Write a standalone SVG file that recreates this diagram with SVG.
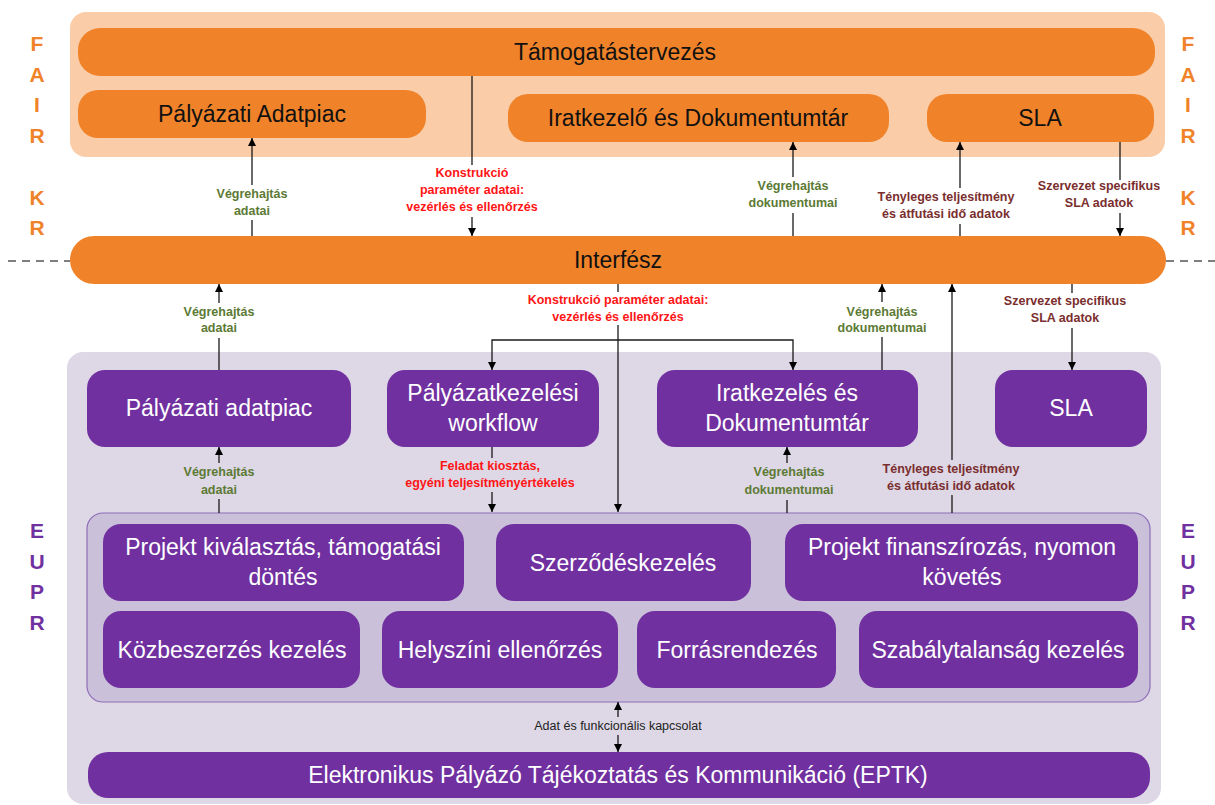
<svg xmlns="http://www.w3.org/2000/svg" width="1215" height="805" viewBox="0 0 1215 805">
<style>
.big{font-family:"Liberation Sans",Arial,sans-serif;font-size:23px;text-anchor:middle}
.dark{fill:#111}
.wh{fill:#fff}
.side{font-family:"Liberation Sans",Arial,sans-serif;font-size:21px;font-weight:bold;text-anchor:middle}
.or{fill:#F0832A}
.pu{fill:#7030A0}
.lbl{font-family:"Liberation Sans",Arial,sans-serif;font-size:12.5px;font-weight:bold;text-anchor:middle}
.g{fill:#5C7A34}
.r{fill:#FF1515}
.b{fill:#7A2E2E}
.sm{font-family:"Liberation Sans",Arial,sans-serif;font-size:12.5px;text-anchor:middle;fill:#222}
.obox{fill:#F0832A}
.pbox{fill:#7030A0}
.con{fill:none;stroke:#1a1a1a;stroke-width:1.3}
</style>
<defs>
<marker id="ah" viewBox="0 0 8 8" refX="8" refY="4" markerWidth="8" markerHeight="8" markerUnits="userSpaceOnUse" orient="auto">
<path d="M0,0 L8,4 L0,8 z" fill="#000"/>
</marker>
</defs>
<rect width="1215" height="805" fill="#fff"/>

<!-- containers -->
<g id="fair-container"><rect x="70" y="12" width="1095" height="145" rx="16" fill="#FACDA8"/></g>
<g id="eupr-container"><rect x="67" y="352" width="1094" height="452" rx="16" fill="#DDD7E6"/></g>
<g id="inner-container"><rect x="87" y="513" width="1063" height="189" rx="16" fill="#CBC0DA" stroke="#8E6FB8" stroke-width="1.2"/></g>

<!-- dashed separators -->
<g id="separator">
<line x1="8" y1="261" x2="70" y2="261" stroke="#7f7f7f" stroke-width="2" stroke-dasharray="8,6"/>
<line x1="1166" y1="261" x2="1215" y2="261" stroke="#7f7f7f" stroke-width="2" stroke-dasharray="8,6"/>
</g>

<!-- side letters -->
<g id="side-labels">
<text class="side or" x="37" y="51">F</text><text class="side or" x="37" y="82">A</text><text class="side or" x="37" y="112">I</text><text class="side or" x="37" y="143">R</text>
<text class="side or" x="37" y="205">K</text><text class="side or" x="37" y="235">R</text>
<text class="side or" x="1188" y="51">F</text><text class="side or" x="1188" y="82">A</text><text class="side or" x="1188" y="112">I</text><text class="side or" x="1188" y="143">R</text>
<text class="side or" x="1188" y="205">K</text><text class="side or" x="1188" y="235">R</text>
<text class="side pu" x="37" y="538">E</text><text class="side pu" x="37" y="569">U</text><text class="side pu" x="37" y="599">P</text><text class="side pu" x="37" y="630">R</text>
<text class="side pu" x="1188" y="538">E</text><text class="side pu" x="1188" y="569">U</text><text class="side pu" x="1188" y="599">P</text><text class="side pu" x="1188" y="630">R</text>
</g>

<!-- FAIR nodes -->
<g id="tamogatastervezes"><rect class="obox" x="78" y="28" width="1077" height="48" rx="22"/><text class="big dark" x="615" y="60">Támogatástervezés</text></g>
<g id="fair-adatpiac"><rect class="obox" x="78" y="90" width="348" height="48" rx="20"/><text class="big dark" x="252" y="122">Pályázati Adatpiac</text></g>
<g id="fair-iratkezelo"><rect class="obox" x="508" y="94" width="381" height="48" rx="20"/><text class="big dark" x="698" y="126">Iratkezelő és Dokumentumtár</text></g>
<g id="fair-sla"><rect class="obox" x="927" y="94" width="227" height="48" rx="20"/><text class="big dark" x="1040" y="126">SLA</text></g>

<!-- Interface -->
<g id="interfesz"><rect class="obox" x="70" y="236" width="1096" height="48" rx="24"/><text class="big dark" x="618" y="268">Interfész</text></g>

<!-- EUPR nodes -->
<g id="eupr-adatpiac"><rect class="pbox" x="87" y="370" width="264" height="77" rx="18"/><text class="big wh" x="219" y="416">Pályázati adatpiac</text></g>
<g id="eupr-workflow"><rect class="pbox" x="387" y="370" width="212" height="77" rx="18"/><text class="big wh" x="493" y="401">Pályázatkezelési</text><text class="big wh" x="493" y="431">workflow</text></g>
<g id="eupr-iratkezeles"><rect class="pbox" x="657" y="370" width="261" height="77" rx="18"/><text class="big wh" x="787" y="401">Iratkezelés és</text><text class="big wh" x="787" y="431">Dokumentumtár</text></g>
<g id="eupr-sla"><rect class="pbox" x="995" y="370" width="152" height="77" rx="18"/><text class="big wh" x="1071" y="416">SLA</text></g>

<g id="projekt-kivalasztas"><rect class="pbox" x="103" y="524" width="361" height="77" rx="18"/><text class="big wh" x="283" y="555">Projekt kiválasztás, támogatási</text><text class="big wh" x="283" y="585">döntés</text></g>
<g id="szerzodeskezeles"><rect class="pbox" x="496" y="524" width="255" height="77" rx="18"/><text class="big wh" x="623" y="571">Szerződéskezelés</text></g>
<g id="projekt-finanszirozas"><rect class="pbox" x="785" y="524" width="353" height="77" rx="18"/><text class="big wh" x="962" y="555">Projekt finanszírozás, nyomon</text><text class="big wh" x="962" y="585">követés</text></g>
<g id="kozbeszerzes"><rect class="pbox" x="103" y="611" width="257" height="77" rx="18"/><text class="big wh" x="232" y="658">Közbeszerzés kezelés</text></g>
<g id="helyszini"><rect class="pbox" x="382" y="611" width="236" height="77" rx="18"/><text class="big wh" x="500" y="658">Helyszíni ellenőrzés</text></g>
<g id="forrasrendezes"><rect class="pbox" x="637" y="611" width="199" height="77" rx="18"/><text class="big wh" x="737" y="658">Forrásrendezés</text></g>
<g id="szabalytalansag"><rect class="pbox" x="859" y="611" width="279" height="77" rx="18"/><text class="big wh" x="998" y="658">Szabálytalanság kezelés</text></g>

<g id="eptk"><rect class="pbox" x="88" y="752" width="1062" height="46" rx="20"/><text class="big wh" x="618" y="783">Elektronikus Pályázó Tájékoztatás és Kommunikáció (EPTK)</text></g>

<!-- connectors -->
<g id="connectors">
<path class="con" d="M472,76 V165"/><path class="con" d="M472,217 V236" marker-end="url(#ah)"/>
<path class="con" d="M252,185 V138" marker-end="url(#ah)"/><path class="con" d="M252,236 V220"/>
<path class="con" d="M793,177 V142" marker-end="url(#ah)"/><path class="con" d="M793,236 V213"/>
<path class="con" d="M960,188 V142" marker-end="url(#ah)"/><path class="con" d="M960,236 V224"/>
<path class="con" d="M1120,142 V180"/><path class="con" d="M1120,213 V236" marker-end="url(#ah)"/>

<path class="con" d="M219,303 V284" marker-end="url(#ah)"/><path class="con" d="M219,370 V338"/>
<path class="con" d="M618,284 V292"/><path class="con" d="M618,325 V512" marker-end="url(#ah)"/>
<path class="con" d="M618,340 H492 V370" marker-end="url(#ah)"/><path class="con" d="M618,340 H793 V370" marker-end="url(#ah)"/>
<path class="con" d="M882,302 V284" marker-end="url(#ah)"/><path class="con" d="M882,370 V337"/>
<path class="con" d="M952,460 V284" marker-end="url(#ah)"/><path class="con" d="M952,513 V495"/>
<path class="con" d="M1072,284 V293"/><path class="con" d="M1072,328 V370" marker-end="url(#ah)"/>

<path class="con" d="M219,463 V447" marker-end="url(#ah)"/><path class="con" d="M219,513 V499"/>
<path class="con" d="M492,447 V458"/><path class="con" d="M492,492 V512" marker-end="url(#ah)"/>
<path class="con" d="M787,463 V447" marker-end="url(#ah)"/><path class="con" d="M787,513 V500"/>
<path class="con" d="M618,717 V702" marker-end="url(#ah)"/><path class="con" d="M618,735 V752" marker-end="url(#ah)"/>

<!-- connector labels -->
<text class="lbl r" x="472" y="177">Konstrukció</text><text class="lbl r" x="472" y="194">paraméter adatai:</text><text class="lbl r" x="472" y="211">vezérlés és ellenőrzés</text>
<text class="lbl g" x="252" y="198">Végrehajtás</text><text class="lbl g" x="252" y="215">adatai</text>
<text class="lbl g" x="793" y="190">Végrehajtás</text><text class="lbl g" x="793" y="207">dokumentumai</text>
<text class="lbl b" x="946" y="201">Tényleges teljesítmény</text><text class="lbl b" x="946" y="218">és átfutási idő adatok</text>
<text class="lbl b" x="1099" y="190">Szervezet specifikus</text><text class="lbl b" x="1099" y="207">SLA adatok</text>

<text class="lbl g" x="219" y="316">Végrehajtás</text><text class="lbl g" x="219" y="332">adatai</text>
<text class="lbl r" x="618" y="304">Konstrukció paraméter adatai:</text><text class="lbl r" x="618" y="321">vezérlés és ellenőrzés</text>
<text class="lbl g" x="882" y="316">Végrehajtás</text><text class="lbl g" x="882" y="332">dokumentumai</text>
<text class="lbl b" x="1065" y="305">Szervezet specifikus</text><text class="lbl b" x="1065" y="322">SLA adatok</text>

<text class="lbl g" x="219" y="476">Végrehajtás</text><text class="lbl g" x="219" y="494">adatai</text>
<text class="lbl r" x="490" y="470">Feladat kiosztás,</text><text class="lbl r" x="490" y="487">egyéni teljesítményértékelés</text>
<text class="lbl g" x="789" y="476">Végrehajtás</text><text class="lbl g" x="789" y="494">dokumentumai</text>
<text class="lbl b" x="951" y="473">Tényleges teljesítmény</text><text class="lbl b" x="951" y="490">és átfutási idő adatok</text>

<text class="sm" x="618" y="730">Adat és funkcionális kapcsolat</text>
</g>
</svg>
